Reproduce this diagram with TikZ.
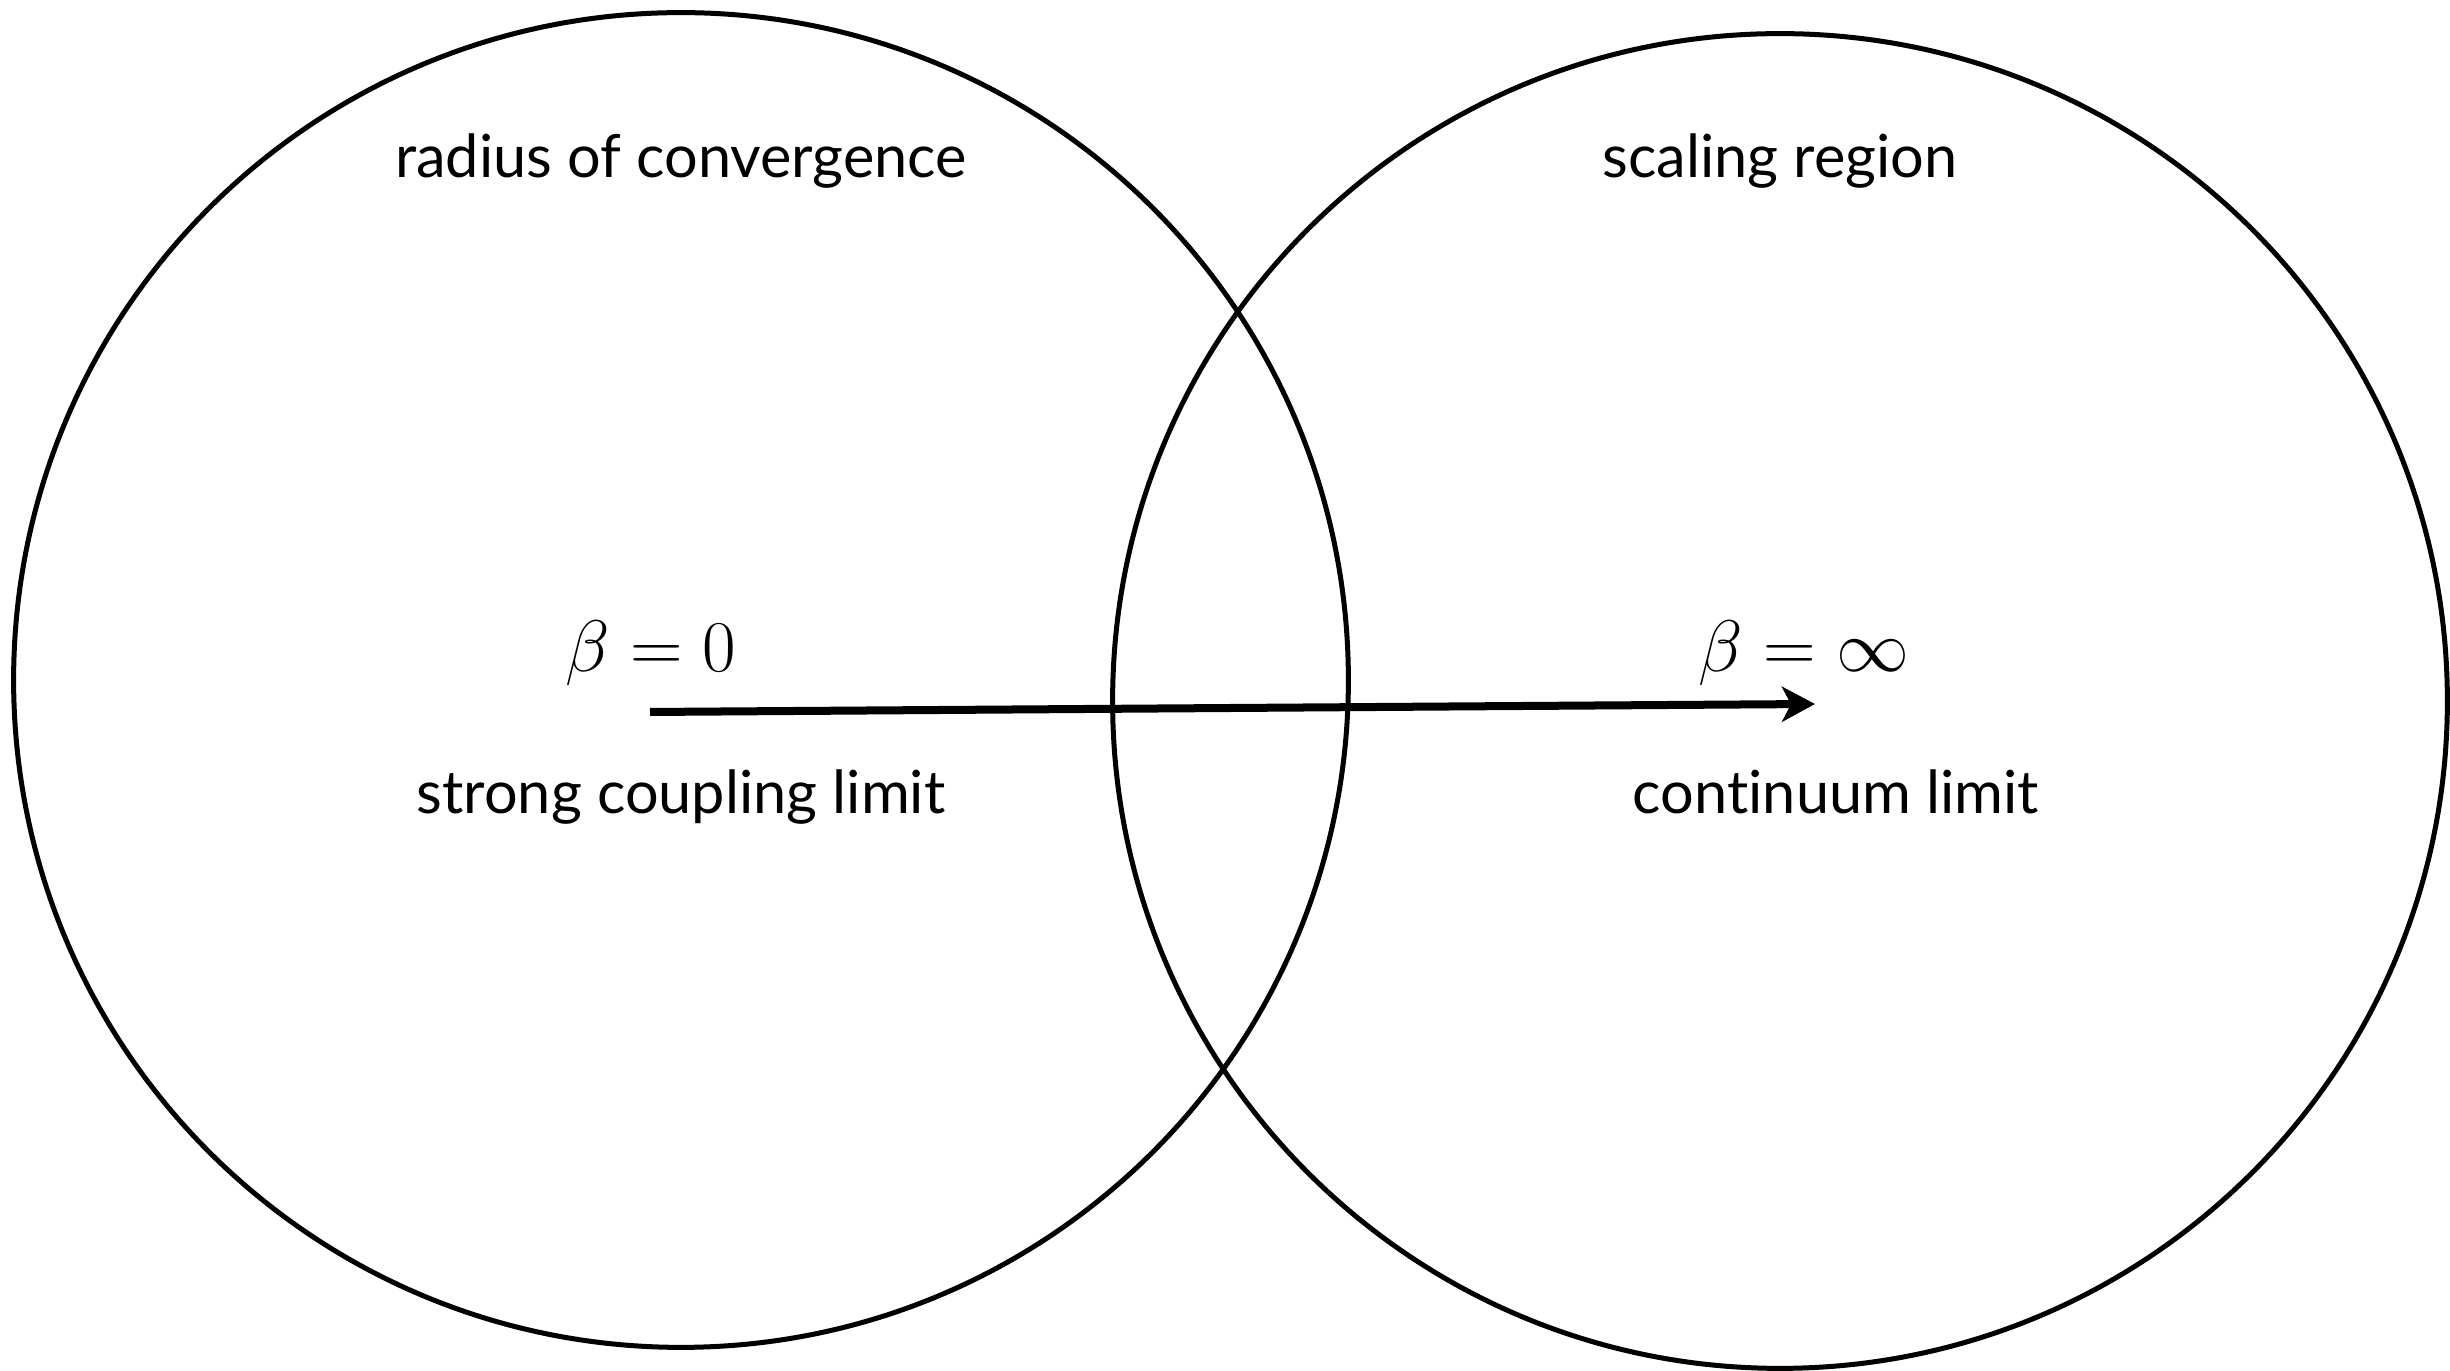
\documentclass[tikz,border=0pt]{standalone}
\usepackage{fontspec}
\setmainfont[Ligatures={NoCommon}]{Lato}
\usetikzlibrary{arrows.meta}
\tikzset{
  region/.style={circle, draw, line width=0.05cm, minimum size=13.34cm, inner sep=0pt},
  label/.style={anchor=base, inner sep=0pt, font=\fontsize{16.9}{20}\selectfont},
  mathlabel/.style={anchor=base, inner sep=0pt, font=\huge},
  flow/.style={line width=0.08cm, -{Stealth[length=0.33cm, width=0.35cm, inset=0.09cm]}}
}
\begin{document}
\begin{tikzpicture}[x=0.01cm, y=-0.01cm]
\useasboundingbox (0,0) rectangle (2450,1371);
\node[region] (L) at (681,680) {};
\node[region] (R) at (1780,701) {};
\node[label] (rad) at (681,178) {radius of convergence};
\node[label] (scal) at (1780,178) {scaling region};
\node[label] (strong) at (681,814) {strong coupling limit};
\node[label] (cont) at (1836,814) {continuum limit};
\node[mathlabel] (b0) at (651,672) {$\beta=0$};
\node[mathlabel] (binf) at (1804,672) {$\beta=\infty$};
\coordinate (start) at (650,712);
\coordinate (end) at (1815,704);
\draw[flow] (start) -- (end);
\end{tikzpicture}
\end{document}
